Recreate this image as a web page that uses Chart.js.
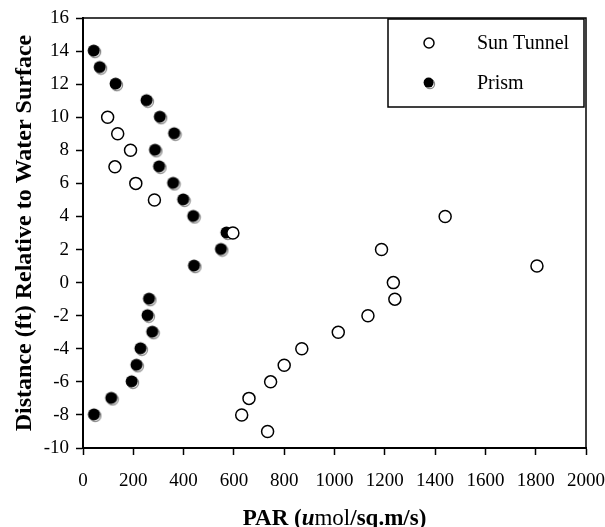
<!DOCTYPE html>
<html lang="en">
<head>
    <meta charset="UTF-8">
    <title>PAR vs Depth</title>
    <script src="https://cdn.jsdelivr.net/npm/chart.js"></script>
    <style>
        body {
            margin: 0;
            background: #fff;
        }
        .wrap {
            width: 605px;
            height: 527px;
        }
    </style>
</head>
<body>
    <div class="wrap">
        <canvas id="parChart" width="605" height="527"></canvas>
    </div>
    <script>
        // values
        const sunTunnelDepth = [10, 9, 8, 7, 6, 5, 4, 3, 2, 1, 0, -1, -2, -3, -4, -5, -6, -7, -8, -9];
        const sunTunnelPAR = [98, 138, 189, 127, 210, 284, 1440, 596, 1187, 1805, 1234, 1240, 1133, 1015, 870, 800, 746, 660, 631, 734];
        const prismDepth = [14, 13, 12, 11, 10, 9, 8, 7, 6, 5, 4, 3, 2, 1, -1, -2, -3, -4, -5, -6, -7, -8];
        const prismPAR = [44, 68, 131, 254, 307, 364, 288, 304, 360, 400, 440, 572, 550, 443, 264, 258, 277, 230, 214, 195, 114, 45];
        const seriesNames = ['Sun Tunnel', 'Prism'];
        const yTitle = 'Distance (ft) Relative to Water Surface';
        // x title pieces: [text, font weight/style]
        const xTitleParts = [['PAR (', 'bold'], ['u', 'italic bold'], ['mol', 'normal'], ['/sq.m/s)', 'bold']];

        const SERIF = "'Liberation Serif', 'Times New Roman', serif";

        // filled marker with the little grey offset ring
        function makeFilledDot(r) {
            const size = Math.ceil(r * 2 + 4);
            const c = document.createElement('canvas');
            c.width = size;
            c.height = size;
            const g = c.getContext('2d');
            const mid = size / 2;
            g.beginPath();
            g.arc(mid + 0.9, mid + 0.9, r - 0.3, 0, Math.PI * 2);
            g.strokeStyle = '#8a8a8a';
            g.lineWidth = 1.2;
            g.stroke();
            g.beginPath();
            g.arc(mid - 0.4, mid - 0.4, r, 0, Math.PI * 2);
            g.fillStyle = '#000';
            g.fill();
            return c;
        }
        const prismDot = makeFilledDot(6);
        const prismDotSmall = makeFilledDot(5);

        const toPoints = (xs, ys) => xs.map((x, i) => ({ x: x, y: ys[i] }));

        const frame = {
            id: 'frame',
            beforeDatasetsDraw(chart) {
                const a = chart.chartArea;
                const ctx = chart.ctx;
                ctx.save();
                ctx.strokeStyle = '#000';
                ctx.lineWidth = 1.5;
                ctx.beginPath();
                ctx.moveTo(a.left, a.top);
                ctx.lineTo(a.right, a.top);
                ctx.lineTo(a.right, a.bottom);
                ctx.stroke();
                ctx.restore();
            }
        };

        const boxLegend = {
            id: 'boxLegend',
            afterDraw(chart) {
                const ctx = chart.ctx;
                ctx.save();
                ctx.fillStyle = '#fff';
                ctx.fillRect(388, 19, 196, 88);
                ctx.strokeStyle = '#000';
                ctx.lineWidth = 1.5;
                ctx.strokeRect(388, 19, 196, 88);
                const rows = [43, 83];
                seriesNames.forEach((name, i) => {
                    const y = rows[i];
                    if (i === 0) {
                        ctx.beginPath();
                        ctx.arc(429, y, 5, 0, Math.PI * 2);
                        ctx.fillStyle = '#fff';
                        ctx.fill();
                        ctx.lineWidth = 1.5;
                        ctx.strokeStyle = '#000';
                        ctx.stroke();
                    } else {
                        ctx.drawImage(prismDotSmall, 429 - prismDotSmall.width / 2, y - prismDotSmall.height / 2);
                    }
                    ctx.fillStyle = '#000';
                    ctx.font = '20px ' + SERIF;
                    ctx.textBaseline = 'middle';
                    ctx.textAlign = 'left';
                    ctx.fillText(name, 477, y + 1);
                });
                ctx.restore();
            }
        };

        const xTitle = {
            id: 'xTitle',
            afterDraw(chart) {
                const a = chart.chartArea;
                const ctx = chart.ctx;
                ctx.save();
                ctx.fillStyle = '#000';
                ctx.textBaseline = 'alphabetic';
                ctx.textAlign = 'left';
                let total = 0;
                xTitleParts.forEach(p => {
                    ctx.font = p[1] + ' 23px ' + SERIF;
                    total += ctx.measureText(p[0]).width;
                });
                let x = (a.left + a.right) / 2 - total / 2;
                xTitleParts.forEach(p => {
                    ctx.font = p[1] + ' 23px ' + SERIF;
                    ctx.fillText(p[0], x, 525);
                    x += ctx.measureText(p[0]).width;
                });
                ctx.restore();
            }
        };

        const ctx = document.getElementById('parChart').getContext('2d');

        const parChart = new Chart(ctx, {
            type: 'scatter',
            data: {
                datasets: [
                    {
                        label: seriesNames[0],
                        data: toPoints(sunTunnelPAR, sunTunnelDepth),
                        pointStyle: 'circle',
                        pointRadius: 6,
                        pointBackgroundColor: '#fff',
                        pointBorderColor: '#000',
                        pointBorderWidth: 1.5
                    },
                    {
                        label: seriesNames[1],
                        data: toPoints(prismPAR, prismDepth),
                        pointStyle: prismDot,
                        pointRadius: 6
                    }
                ]
            },
            options: {
                responsive: false,
                animation: false,
                layout: { padding: { top: 18, right: 19, left: 0, bottom: 0 } },
                plugins: {
                    legend: { display: false },
                    tooltip: { enabled: false }
                },
                scales: {
                    x: {
                        type: 'linear',
                        min: 0,
                        max: 2000,
                        afterFit: s => {
                            s.height = 79;
                            s.paddingLeft = 0;
                            s.paddingRight = 0;
                        },
                        border: { display: true, color: '#000', width: 2 },
                        grid: { drawOnChartArea: false, drawTicks: true, tickLength: 7, color: '#000', tickWidth: 1.5 },
                        ticks: {
                            stepSize: 200,
                            color: '#000',
                            padding: 15,
                            maxRotation: 0,
                            font: { family: SERIF, size: 19 },
                            callback: v => String(v)
                        }
                    },
                    y: {
                        type: 'linear',
                        min: -10,
                        max: 16,
                        afterFit: s => {
                            s.width = 83;
                            s.paddingTop = 0;
                            s.paddingBottom = 0;
                        },
                        border: { display: true, color: '#000', width: 2 },
                        grid: { drawOnChartArea: false, drawTicks: true, tickLength: 7, color: '#000', tickWidth: 1.5 },
                        ticks: { stepSize: 2, color: '#000', padding: 7, font: { family: SERIF, size: 19 } },
                        title: {
                            display: true,
                            text: yTitle,
                            color: '#000',
                            padding: { top: 10, bottom: 0 },
                            font: { family: SERIF, size: 24, weight: 'bold' }
                        }
                    }
                }
            },
            plugins: [frame, boxLegend, xTitle]
        });
    </script>
</body>
</html>
